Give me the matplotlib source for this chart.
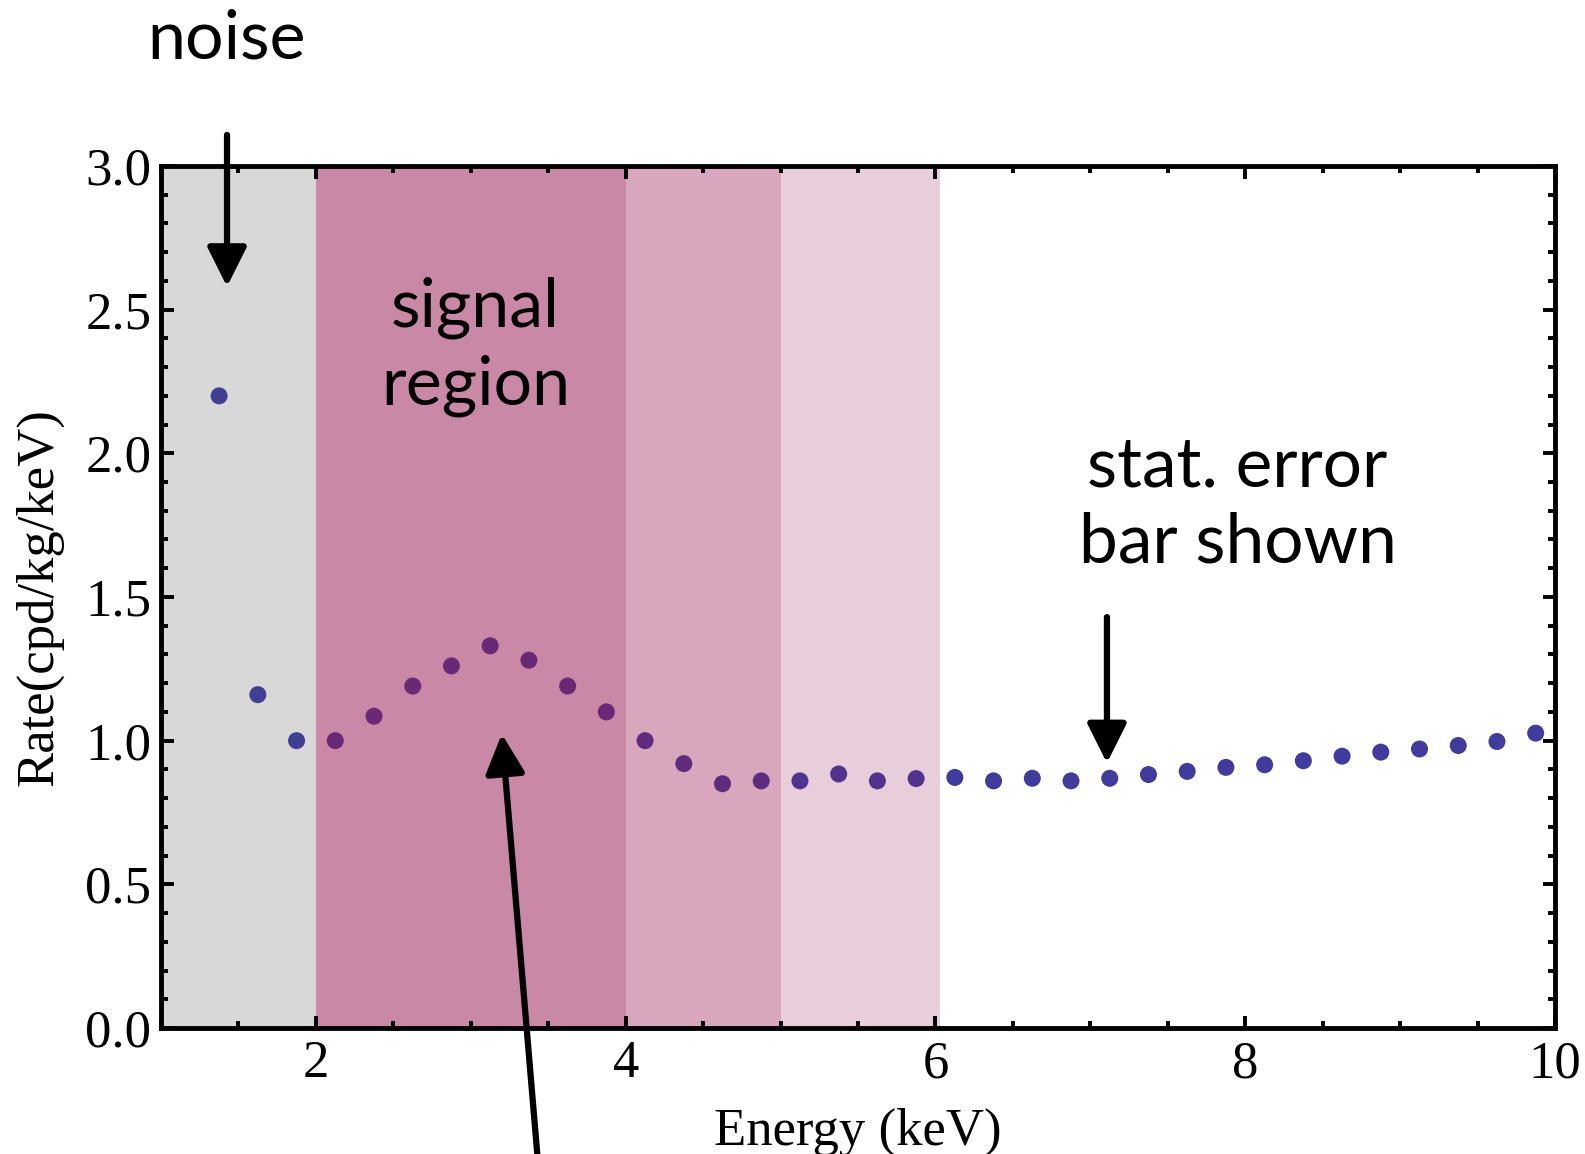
import matplotlib.pyplot as plt
from matplotlib.ticker import MultipleLocator, FormatStrFormatter

# bin centres (keV) and measured rate
energy = [1.375, 1.625, 1.875, 2.125, 2.375, 2.625, 2.875, 3.125, 3.375, 3.625,
          3.875, 4.125, 4.375, 4.625, 4.875, 5.125, 5.375, 5.625, 5.875, 6.125,
          6.375, 6.625, 6.875, 7.125, 7.375, 7.625, 7.875, 8.125, 8.375, 8.625,
          8.875, 9.125, 9.375, 9.625, 9.875]
rate = [2.20, 1.16, 1.00, 1.00, 1.085, 1.19, 1.26, 1.33, 1.28, 1.19,
        1.10, 1.00, 0.92, 0.85, 0.86, 0.86, 0.884, 0.86, 0.868, 0.872,
        0.86, 0.869, 0.86, 0.869, 0.882, 0.893, 0.907, 0.916, 0.93, 0.946,
        0.96, 0.971, 0.983, 0.997, 1.026]

# shaded energy bands
band_lo = [1, 2, 4, 5]
band_hi = [2, 4, 5, 6.03]
band_fill = ['#d8d8d8', '#c888a6', '#d9a7bd', '#e8cdda']
band_dot = ['#413f91', '#6a2977', '#5e2c7f', '#51338e']
dot_default = '#413c9b'

serif = ['Liberation Serif', 'DejaVu Serif']
sans = ['Lato', 'DejaVu Sans']

fig = plt.figure(figsize=(15.85, 11.54), dpi=100)
ax = fig.add_axes([0.1016, 0.1092, 0.8795, 0.747])

for lo, hi, c in zip(band_lo, band_hi, band_fill):
    ax.axvspan(lo, hi, color=c, lw=0, zorder=0)

def dot_color(x):
    for lo, hi, c in zip(band_lo, band_hi, band_dot):
        if lo <= x < hi:
            return c
    return dot_default

ax.scatter(energy, rate, s=150, c=[dot_color(e) for e in energy], lw=0, zorder=3)

ax.set_xlim(1, 10)
ax.set_ylim(0, 3)
ax.set_xticks([2, 4, 6, 8, 10])
ax.xaxis.set_minor_locator(MultipleLocator(0.5))
ax.yaxis.set_major_locator(MultipleLocator(0.5))
ax.yaxis.set_minor_locator(MultipleLocator(0.1))
ax.yaxis.set_major_formatter(FormatStrFormatter('%.1f'))

for s in ax.spines.values():
    s.set_linewidth(3.5)
ax.tick_params(which='both', direction='in', top=True, right=True, width=2.8)
ax.tick_params(which='major', length=9)
ax.tick_params(which='minor', length=5)
ax.tick_params(axis='x', pad=9)
ax.tick_params(axis='y', pad=7)
for lab in ax.get_xticklabels() + ax.get_yticklabels():
    lab.set_family(serif)
    lab.set_fontsize(38)

ax.set_xlabel('Energy (keV)', family=serif, fontsize=38, va='top')
ax.xaxis.set_label_coords(0.5, -0.092)
ax.set_ylabel('Rate(cpd/kg/keV)', family=serif, fontsize=38)
ax.yaxis.set_label_coords(-0.07, 0.5)

# annotations
ax.text(3.03, 2.37, 'signal\nregion', family=sans, fontsize=49, ha='center',
        va='center', linespacing=1.3)
ax.text(7.95, 1.82, 'stat. error\nbar shown', family=sans, fontsize=50,
        ha='center', va='center', linespacing=1.25)
ax.text(1.42, 3.44, 'noise', family=sans, fontsize=49, ha='center',
        va='center', clip_on=False)

arrow = dict(arrowstyle='-|>,head_length=0.8,head_width=0.4', lw=4.5,
             color='black', mutation_scale=30, shrinkA=0, shrinkB=0)
ax.annotate('', xy=(1.426, 2.58), xytext=(1.426, 3.108),
            arrowprops=arrow, annotation_clip=False)
ax.annotate('', xy=(3.20, 1.023), xytext=(3.434, -0.47),
            arrowprops=arrow, annotation_clip=False)
ax.annotate('', xy=(7.107, 0.922), xytext=(7.107, 1.43),
            arrowprops=arrow, annotation_clip=False)

fig.savefig('out.png', dpi=100)
